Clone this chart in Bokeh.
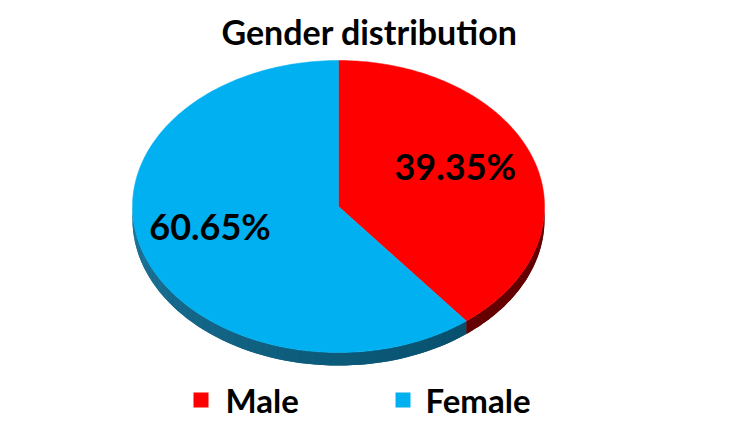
import numpy as np
from bokeh.plotting import figure
from bokeh.models import Range1d
from bokeh.core.properties import value
from bokeh.embed import file_html
from bokeh.resources import INLINE

# ---- data ----
title = "Gender distribution"
categories = ["Male", "Female"]
shares = [39.35, 60.65]
labels = ["39.35%", "60.65%"]
top_colors = ["#FF0000", "#00B0F0"]
side_light = ["#8a0000", "#2480a8"]
side_dark = ["#5e0000", "#004660"]

# ---- layout ----
W, H = 750, 422
CX, CY, RX, RY, DEPTH = 338, 206, 206, 146, 13
FONT = "Lato"

p = figure(width=W, height=H, x_range=Range1d(0, W), y_range=Range1d(H, 0),
           output_backend="svg", toolbar_location=None, min_border=0)
p.axis.visible = False
p.grid.visible = False
p.outline_line_color = None
p.background_fill_color = "white"
p.border_fill_color = "white"


def hex2rgb(h):
    h = h.lstrip("#")
    return np.array([int(h[i:i + 2], 16) for i in (0, 2, 4)], dtype=float)


def mix(c1, c2, t):
    c = hex2rgb(c1) * (1 - t) + hex2rgb(c2) * t
    return "#%02x%02x%02x" % tuple(int(round(v)) for v in c)


def pt(a_deg, dy=0.0):
    a = np.radians(a_deg)
    return CX + RX * np.cos(a), CY - RY * np.sin(a) + dy


# slice angles, starting at 12 o'clock and running clockwise
starts, ends = [], []
a = 90.0
for s in shares:
    starts.append(a)
    a = a - s / 100.0 * 360.0
    ends.append(a)

# ---- side walls (visible front part, angles in [-180, 0]) ----
base_xs, base_ys, base_cols = [], [], []
side_xs, side_ys, side_cols = [], [], []
for i in range(len(shares)):
    hi = min(starts[i], 0.0)
    lo = max(ends[i], -180.0)
    if hi <= lo:
        continue
    n = 60
    angs = np.linspace(lo, hi, n + 1)
    top = [pt(q) for q in angs]
    bot = [pt(q, DEPTH) for q in angs[::-1]]
    base_xs.append([q[0] for q in top] + [q[0] for q in bot])
    base_ys.append([q[1] for q in top] + [q[1] for q in bot])
    base_cols.append(mix(side_light[i], side_dark[i], 0.6))
    for k in range(n):
        a0, a1 = angs[k], angs[k + 1]
        x0, y0 = pt(a0)
        x1, y1 = pt(a1)
        am = 0.5 * (a0 + a1)
        t = min(max((am + 180.0) / 180.0, 0.0), 1.0) ** 0.6
        side_xs.append([x0, x1, x1, x0])
        side_ys.append([y0, y1, y1 + DEPTH, y0 + DEPTH])
        side_cols.append(mix(side_light[i], side_dark[i], t))

p.patches(base_xs, base_ys, fill_color=base_cols, line_color=None)
p.patches(side_xs, side_ys, fill_color=side_cols, line_color=None)

# ---- top faces ----
top_xs, top_ys = [], []
for i in range(len(shares)):
    angs = np.linspace(starts[i], ends[i], 200)
    top_xs.append([CX] + [pt(q)[0] for q in angs])
    top_ys.append([CY] + [pt(q)[1] for q in angs])
p.patches(top_xs, top_ys, fill_color=top_colors, line_color=top_colors, line_width=0.5)

# ---- slice labels ----
lab_r = [0.6, 0.66]
lab_dy = -12
lx, ly = [], []
for i in range(len(shares)):
    mid = 0.5 * (starts[i] + ends[i])
    a = np.radians(mid)
    lx.append(CX + RX * lab_r[i] * np.cos(a))
    ly.append(CY - RY * lab_r[i] * np.sin(a) + lab_dy)
p.text(x=lx, y=ly, text=labels, text_font=value(FONT), text_font_style="bold",
       text_font_size="36px", text_align="center", text_baseline="middle", text_color="black")

# ---- title ----
p.text(x=[369], y=[31], text=[title], text_font=value(FONT), text_font_style="bold",
       text_font_size="34px", text_align="center", text_baseline="middle", text_color="black")

# ---- legend ----
leg_sq_x = [200.5, 402.5]
leg_txt_x = [225, 425]
leg_y = 399.5
p.rect(x=leg_sq_x, y=[leg_y] * 2, width=15, height=15, fill_color=top_colors, line_color=None)
p.text(x=leg_txt_x, y=[leg_y] * 2, text=categories, text_font=value(FONT), text_font_style="bold",
       text_font_size="33px", text_align="left", text_baseline="middle", text_color="black")

open("out.html", "w").write(file_html(p, INLINE))
